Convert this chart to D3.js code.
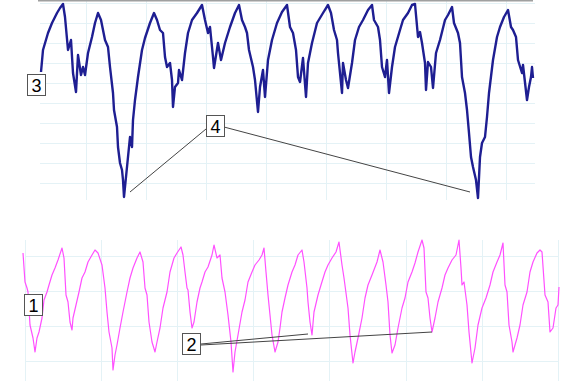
<!DOCTYPE html>
<html>
<head>
<meta charset="utf-8">
<script src="https://d3js.org/d3.v7.min.js"></script>
<style>
  body { margin:0; background:#fff; }
  svg { display:block; }
</style>
</head>
<body>
<svg id="drawing_region"></svg>
<script>
// upper trace (channel 3), time in ms, level in arbitrary units
var topTime = [15,17,22,26,31,34,37,39,42,45,47,50,52,55,57,59,62,66,69,72,75,79,82,84,87,88,91,92,94,96,97,98,101,102,104,106,107,109,112,116,119,124,128,131,134,137,139,141,144,146,147,149,152,153,156,159,162,166,171,176,179,182,184,187,188,192,195,199,204,209,213,216,219,221,223,227,229,232,234,237,239,242,246,251,256,261,264,267,270,272,274,277,280,282,286,291,297,302,305,308,311,312,316,317,320,322,326,329,333,337,342,346,348,352,354,356,359,361,363,366,369,374,377,382,386,389,392,394,396,399,400,402,405,407,410,414,419,422,426,428,432,434,436,439,441,443,445,447,450,452,454,456,459,461,463,467,471,474,478,482,485,487,490,492,496,497,501,503,505,506,507];
var topValue = [131,153,170,180,190,195,199,186,153,163,130,111,148,128,136,128,150,166,180,190,183,163,156,136,110,93,76,56,40,33,23,6,36,46,66,56,83,103,126,153,165,180,190,183,173,170,146,136,140,123,96,116,120,133,123,150,170,183,190,198,183,170,176,146,135,160,143,160,176,190,198,183,176,170,153,136,123,91,116,133,106,143,163,180,191,198,176,170,153,126,121,145,106,140,160,180,190,198,190,173,163,150,110,140,123,115,140,163,176,183,193,198,183,176,163,136,126,143,110,136,156,173,183,190,198,199,166,171,160,140,113,141,136,115,150,163,183,188,196,180,170,160,126,110,93,70,46,36,23,5,46,60,66,86,110,143,166,176,186,193,176,173,166,143,130,138,103,116,126,136,125];

// lower trace (channel 1)
var botTime = [-2,0,2,3,5,8,10,12,14,17,19,22,24,27,30,33,37,39,41,43,45,47,48,51,54,57,60,63,67,70,73,77,80,82,84,87,88,90,92,95,98,102,105,108,112,115,118,120,122,124,127,130,132,135,138,142,145,149,152,156,158,160,162,163,165,167,169,172,175,177,180,183,187,189,192,195,197,200,203,206,208,210,213,217,220,223,227,230,234,237,239,241,243,245,247,250,253,255,257,260,263,267,270,273,277,279,282,283,285,287,289,293,296,300,303,307,311,314,317,319,323,325,328,330,333,337,340,343,347,352,355,358,361,363,365,367,370,373,377,380,383,387,390,393,397,399,401,403,405,407,410,413,417,420,423,427,431,434,436,437,439,442,444,447,450,453,457,461,465,468,472,475,478,480,482,484,487,488,492,495,498,502,505,508,512,515,517,520,523,525,528,531,533,534];
var botValue = [143,114,108,104,71,58,44,58,64,78,96,104,111,121,128,136,148,138,101,94,74,66,78,91,104,118,124,134,141,146,143,131,108,84,64,48,26,41,51,68,84,104,118,128,138,144,134,108,101,74,54,44,54,68,88,104,124,138,143,149,141,124,108,106,84,68,74,94,108,114,124,129,141,151,138,141,118,104,81,54,24,44,61,84,96,114,124,131,136,141,148,124,101,81,61,44,54,68,84,98,111,124,131,141,146,134,108,94,74,61,84,101,111,124,131,138,144,154,131,118,88,61,33,44,58,78,98,111,121,134,146,134,111,94,61,43,51,68,88,98,114,124,133,144,156,148,104,98,78,64,78,94,108,121,128,136,141,156,128,111,114,91,64,33,48,71,88,98,111,124,134,141,153,111,104,71,54,44,58,71,91,104,124,134,143,146,144,101,94,64,68,88,91,109];

var topTicksX = [60,120,180,240,300,360,420,480];
var topTicksY = [20,40,60,80,100,120,140,160,180,200];
var botTicksX = [0,76,152,228,304,381,457,533];
var botTicksY = [35,70,105,140];

// labels: text, box corner, series index each leader line goes to (with a small gap)
var callouts = [
    {text:"3", box:[27,74], series:"top", idx:[]},
    {text:"4", box:[206,115], series:"top", idx:[31,149],
        from:[[206,129],[224,127]], gap:[[6,-5],[-8,-6]]},
    {text:"1", box:[24,294], series:"bot", idx:[]},
    {text:"2", box:[182,333], series:"bot", idx:[109,149],
        from:[[201,344],[201,345]], gap:[[-4,-1],[0,0]]}
];

var config = {
    width: 580,
    height: 381,
    top: {left:40, right:535, top:0, bottom:200},
    bot: {left:25, right:558, top:240, bottom:396}
};

var svg = d3.select('#drawing_region')
    .attr('width', config.width)
    .attr('height', config.height);

var xTop = d3.scaleLinear().domain([14,509]).range([config.top.left, config.top.right]);
var yTop = d3.scaleLinear().domain([3,203]).range([config.top.bottom, config.top.top]);
var xBot = d3.scaleLinear().domain([0,533]).range([config.bot.left, config.bot.right]);
var yBot = d3.scaleLinear().domain([0,156]).range([config.bot.bottom, config.bot.top]);

function grid(xs, ys, tx, ty, box) {
    var g = svg.append('g').attr('stroke', '#e4f2f6').attr('stroke-width', 1);
    g.selectAll('.gx').data(tx).enter().append('line')
        .attr('x1', d => Math.round(xs(d)) + 0.5).attr('x2', d => Math.round(xs(d)) + 0.5)
        .attr('y1', box.top).attr('y2', box.bottom);
    g.selectAll('.gy').data(ty).enter().append('line')
        .attr('x1', box.left).attr('x2', box.right)
        .attr('y1', d => Math.round(ys(d)) + 0.5).attr('y2', d => Math.round(ys(d)) + 0.5);
}

grid(xTop, yTop, topTicksX, topTicksY, config.top);
grid(xBot, yBot, botTicksX, botTicksY, config.bot);

// grey frame edge at top of upper panel
svg.append('line')
    .attr('x1', 38).attr('x2', 533)
    .attr('y1', 0.5).attr('y2', 0.5)
    .attr('stroke', '#a0a0a0').attr('stroke-width', 2);

var topLine = d3.line().x((d, i) => xTop(topTime[i])).y(d => yTop(d));
var botLine = d3.line().x((d, i) => xBot(botTime[i])).y(d => yBot(d));

svg.append('path')
    .attr('d', topLine(topValue))
    .attr('fill', 'none')
    .attr('stroke', '#1e1e92')
    .attr('stroke-width', 2.4)
    .attr('stroke-linejoin', 'round');

svg.append('path')
    .attr('d', botLine(botValue))
    .attr('fill', 'none')
    .attr('stroke', '#ff50ff')
    .attr('stroke-width', 1.2)
    .attr('stroke-linejoin', 'round');

callouts.forEach(c => {
    var xs = c.series == "top" ? xTop : xBot;
    var ys = c.series == "top" ? yTop : yBot;
    var tt = c.series == "top" ? topTime : botTime;
    var vv = c.series == "top" ? topValue : botValue;
    c.idx.forEach((k, j) => {
        svg.append('line')
            .attr('x1', c.from[j][0]).attr('y1', c.from[j][1])
            .attr('x2', xs(tt[k]) + c.gap[j][0]).attr('y2', ys(vv[k]) + c.gap[j][1])
            .attr('stroke', '#444').attr('stroke-width', 1);
    });
    svg.append('rect')
        .attr('x', c.box[0] + 0.5).attr('y', c.box[1] + 0.5)
        .attr('width', 18).attr('height', 21)
        .attr('fill', '#fff')
        .attr('stroke', '#555').attr('stroke-width', 1);
    svg.append('text')
        .attr('x', c.box[0] + 9.5).attr('y', c.box[1] + 18)
        .attr('text-anchor', 'middle')
        .attr('font-family', 'Liberation Sans, Arial, sans-serif')
        .attr('font-size', 18)
        .attr('fill', '#000')
        .text(c.text);
});
</script>
</body>
</html>
